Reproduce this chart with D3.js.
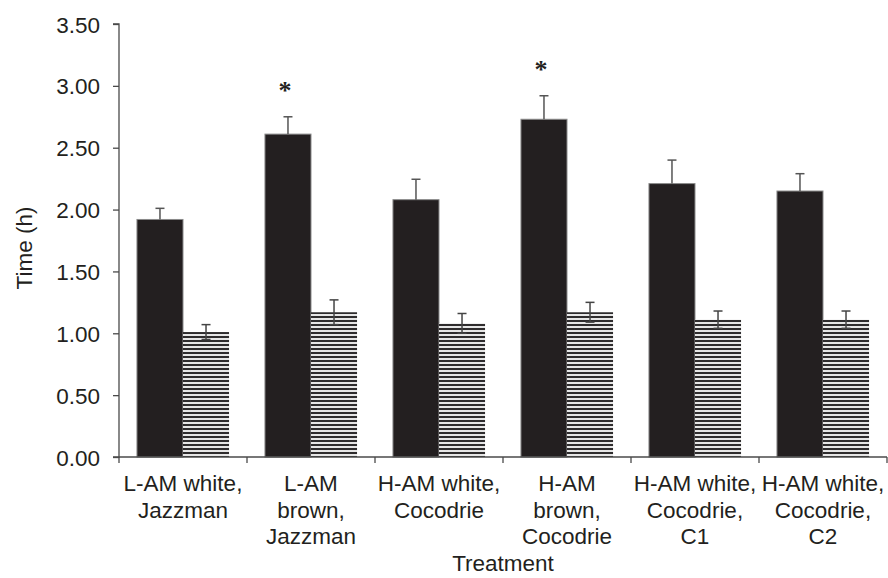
<!DOCTYPE html>
<html><head><meta charset="utf-8">
<script src="https://cdn.jsdelivr.net/npm/d3@7"></script>
<style>body{margin:0;background:#fff}text{font-family:"Liberation Sans",Arial,sans-serif}</style>
</head><body><svg id="c" width="888" height="578"></svg>
<script>
const categories = [["L-AM white,","Jazzman"],["L-AM","brown,","Jazzman"],["H-AM white,","Cocodrie"],["H-AM","brown,","Cocodrie"],["H-AM white,","Cocodrie,","C1"],["H-AM white,","Cocodrie,","C2"]];
const solidValues = [1.92, 2.61, 2.08, 2.73, 2.21, 2.15];
const solidErrors = [0.09, 0.14, 0.165, 0.19, 0.19, 0.14];
const hatchValues = [1.01, 1.17, 1.08, 1.17, 1.11, 1.11];
const hatchErrors = [0.06, 0.10, 0.08, 0.08, 0.07, 0.07];
const significant = [false, true, false, true, false, false];
const yTicks = [0, 0.5, 1, 1.5, 2, 2.5, 3, 3.5];

const svg = d3.select("#c");
const m = {l:119, r:887, t:24, b:457};
const idx = categories.map((d,i)=>i);
const x = d3.scaleBand().domain(idx).range([m.l, m.r]).paddingInner(0).paddingOuter(0);
const inner = d3.scaleBand().domain(["s","h"]).range([0, x.bandwidth()]).paddingOuter(0.39).paddingInner(0);
const y = d3.scaleLinear().domain([0, 3.5]).range([m.b, m.t]);

const defs = svg.append("defs");
const pat = defs.append("pattern").attr("id","hatch").attr("patternUnits","userSpaceOnUse")
  .attr("width",4).attr("height",4).attr("y", 0);
pat.append("rect").attr("width",4).attr("height",4).attr("fill","#e6e6e6");
pat.append("rect").attr("width",4).attr("height",2).attr("fill","#2e2c2d");

const axisColor = "#4a4a4a";
const g = svg.append("g");
g.selectAll(".s").data(idx).join("rect")
  .attr("x", i=>x(i)+inner("s")).attr("width", inner.bandwidth())
  .attr("y", i=>y(solidValues[i])).attr("height", i=>y(0)-y(solidValues[i]))
  .attr("fill","#231f20").attr("stroke","#8a8a8a").attr("stroke-width",1);
g.selectAll(".h").data(idx).join("rect")
  .attr("x", i=>x(i)+inner("h")).attr("width", inner.bandwidth())
  .attr("y", i=>y(hatchValues[i])).attr("height", i=>y(0)-y(hatchValues[i]))
  .attr("fill","url(#hatch)");

const cap = 9;
idx.forEach(i=>{
  const cx = x(i)+inner("s")+inner.bandwidth()/2;
  const top = y(solidValues[i]+solidErrors[i]);
  g.append("line").attr("x1",cx).attr("x2",cx).attr("y1",y(solidValues[i])).attr("y2",top).attr("stroke","#555").attr("stroke-width",1.5);
  g.append("line").attr("x1",cx-cap/2).attr("x2",cx+cap/2).attr("y1",top).attr("y2",top).attr("stroke","#555").attr("stroke-width",1.5);
  const hx = x(i)+inner("h")+inner.bandwidth()/2;
  const ht = y(hatchValues[i]+hatchErrors[i]), hb = y(hatchValues[i]-hatchErrors[i]);
  g.append("line").attr("x1",hx).attr("x2",hx).attr("y1",hb).attr("y2",ht).attr("stroke","#444").attr("stroke-width",1.5);
  [ht,hb].forEach(yy=>g.append("line").attr("x1",hx-cap/2).attr("x2",hx+cap/2).attr("y1",yy).attr("y2",yy).attr("stroke","#444").attr("stroke-width",1.5));
  if (significant[i]) {
    g.append("text").attr("x",cx-3).attr("y",top-24).attr("text-anchor","middle")
      .style("font-family","'Liberation Serif','DejaVu Serif',serif").style("font-weight","bold")
      .style("font-size","26px").attr("fill","#231f20").text("*").attr("dominant-baseline","middle");
  }
});

const ya = svg.append("g").attr("transform",`translate(${m.l},0)`)
  .call(d3.axisLeft(y).tickValues(yTicks).tickFormat(d3.format(".2f")).tickSize(6).tickPadding(13));
ya.select(".domain").attr("stroke",axisColor).attr("stroke-width",1.3).attr("d",`M-6,${m.t}H0V${m.b}H-6`);
ya.selectAll(".tick line").attr("stroke",axisColor).attr("stroke-width",1.3);
ya.selectAll(".tick text").style("font-size","22.5px").attr("fill","#231f20").attr("dy","0.36em");

const xb = svg.append("g").attr("transform",`translate(0,${m.b})`);
xb.append("line").attr("x1",m.l).attr("x2",m.r).attr("stroke",axisColor).attr("stroke-width",1.3);
const bounds = idx.map(i=>x(i)).concat([m.r]);
xb.selectAll(".t").data(bounds).join("line").attr("x1",d=>d).attr("x2",d=>d).attr("y1",0).attr("y2",6).attr("stroke",axisColor).attr("stroke-width",1.3);
idx.forEach(i=>{
  const t = xb.append("text").attr("text-anchor","middle").style("font-size","22.5px").attr("fill","#231f20");
  categories[i].forEach((line,k)=>t.append("tspan").attr("x",x(i)+x.bandwidth()/2).attr("y",34+k*26.7).text(line));
});

svg.append("text").attr("x",(m.l+m.r)/2).attr("y",571).attr("text-anchor","middle").style("font-size","22.5px").attr("fill","#231f20").text("Treatment");
svg.append("text").attr("transform",`translate(32,${248}) rotate(-90)`).attr("text-anchor","middle").style("font-size","22.5px").attr("fill","#231f20").text("Time (h)");
</script></body></html>
